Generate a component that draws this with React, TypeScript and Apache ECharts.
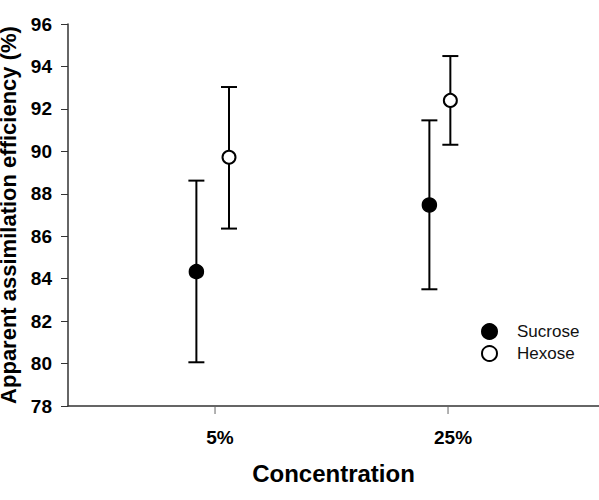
import React, { useEffect, useRef } from "react";
import * as echarts from "echarts";

const categories = ["5%", "25%"];
const categoryPos = [1, 2];
const sucroseX = [0.92, 1.92];
const hexoseX = [1.06, 2.01];
const sucroseMean = [84.33, 87.47];
const sucroseLow = [80.06, 83.5];
const sucroseHigh = [88.62, 91.46];
const hexoseMean = [89.72, 92.4];
const hexoseLow = [86.36, 90.31];
const hexoseHigh = [93.03, 94.49];

const FONT = "Liberation Sans, Arial, sans-serif";

function errorSeries(name: string, xs: number[], lo: number[], hi: number[]) {
  return {
    type: "custom",
    name: name + "-err",
    silent: true,
    data: xs.map((x, i) => [x, lo[i], hi[i]]),
    encode: { x: 0, y: [1, 2] },
    z: 2,
    renderItem: (params: any, api: any) => {
      const x = api.value(0);
      const pLo = api.coord([x, api.value(1)]);
      const pHi = api.coord([x, api.value(2)]);
      const hw = 8;
      const style = { stroke: "#000", lineWidth: 2 };
      return {
        type: "group",
        children: [
          { type: "line", shape: { x1: pLo[0], y1: pLo[1], x2: pHi[0], y2: pHi[1] }, style },
          { type: "line", shape: { x1: pLo[0] - hw, y1: pLo[1], x2: pLo[0] + hw, y2: pLo[1] }, style },
          { type: "line", shape: { x1: pHi[0] - hw, y1: pHi[1], x2: pHi[0] + hw, y2: pHi[1] }, style },
        ],
      };
    },
  };
}

export default function App() {
  const ref = useRef<HTMLDivElement>(null);
  useEffect(() => {
    const chart = echarts.init(ref.current!, null, { renderer: "svg" });
    chart.setOption({
      animation: false,
      backgroundColor: "#fff",
      grid: { left: 68, right: 0, top: 24, bottom: 94, containLabel: false, outerBoundsMode: "none" },
      legend: {
        orient: "vertical",
        left: 476,
        top: 318,
        itemWidth: 15,
        itemHeight: 15,
        itemGap: 5,
        icon: "circle",
        data: ["Sucrose", "Hexose"],
        textStyle: { fontFamily: FONT, fontSize: 17, color: "#111", padding: [0, 0, 0, 15] },
      },
      xAxis: {
        type: "value",
        min: 0.369,
        max: 2.648,
        name: "Concentration",
        nameLocation: "middle",
        nameGap: 55,
        nameTextStyle: { fontFamily: FONT, fontSize: 24, fontWeight: "bold", color: "#000" },
        axisLine: { lineStyle: { color: "#333", width: 1.5 } },
        axisTick: { show: false },
        axisLabel: { show: false },
        splitLine: { show: false },
      },
      yAxis: {
        type: "value",
        min: 78,
        max: 96,
        interval: 2,
        name: "Apparent assimilation efficiency (%)",
        nameLocation: "middle",
        nameGap: 42,
        nameTextStyle: { fontFamily: FONT, fontSize: 22, fontWeight: "bold", color: "#000" },
        axisLine: { show: true, lineStyle: { color: "#333", width: 1.5 } },
        axisTick: { show: true, length: 7, lineStyle: { color: "#333" } },
        axisLabel: { margin: 16, fontFamily: FONT, fontSize: 19, fontWeight: "bold", color: "#000" },
        splitLine: { show: false },
      },
      series: [
        errorSeries("Sucrose", sucroseX, sucroseLow, sucroseHigh),
        errorSeries("Hexose", hexoseX, hexoseLow, hexoseHigh),
        {
          type: "scatter",
          name: "Sucrose",
          symbol: "circle",
          symbolSize: 14,
          z: 5,
          itemStyle: { color: "#000", borderColor: "#000", borderWidth: 1.5, opacity: 1 },
          data: sucroseX.map((x, i) => [x, sucroseMean[i]]),
        },
        {
          type: "scatter",
          name: "Hexose",
          symbol: "circle",
          symbolSize: 13,
          z: 5,
          itemStyle: { color: "#fff", borderColor: "#000", borderWidth: 2, opacity: 1 },
          data: hexoseX.map((x, i) => [x, hexoseMean[i]]),
        },
        {
          type: "custom",
          name: "categoryTicks",
          silent: true,
          data: categoryPos.map((p) => [p, 78]),
          encode: { x: 0, y: 1 },
          z: 3,
          renderItem: (params: any, api: any) => {
            const pt = api.coord([api.value(0), api.value(1)]);
            const label = categories[params.dataIndex];
            return {
              type: "group",
              children: [
                { type: "line", shape: { x1: pt[0], y1: pt[1], x2: pt[0], y2: pt[1] + 8 }, style: { stroke: "#666", lineWidth: 1 } },
                {
                  type: "text",
                  x: pt[0] + 5,
                  y: pt[1] + 31,
                  style: {
                    text: label,
                    align: "center",
                    verticalAlign: "middle",
                    font: "bold 19px " + FONT,
                    fill: "#000",
                  },
                },
              ],
            };
          },
        },
      ],
    });
    return () => chart.dispose();
  }, []);
  return (
    <div
      ref={ref}
      style={{ position: "fixed", left: 0, top: 0, width: 599, height: 500 }}
    />
  );
}
